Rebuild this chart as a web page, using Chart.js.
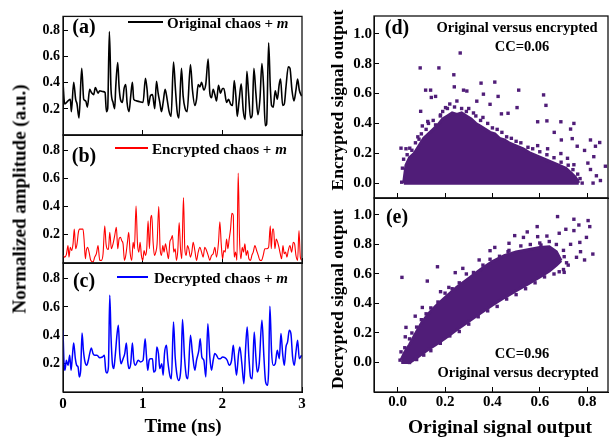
<!DOCTYPE html>
<html>
<head>
<meta charset="utf-8">
<script src="https://cdn.jsdelivr.net/npm/chart.js@4"></script>
<style>
  body { margin: 0; background: #fff; }
  #wrap { position: relative; width: 612px; height: 439px; overflow: hidden; }
  canvas { position: absolute; left: 0; top: 0; }
  .lbl { position: absolute; font-family: "Liberation Serif", "Times New Roman", serif; font-weight: bold;
         color: #000; white-space: nowrap; transform: translate(-50%, -50%); line-height: 1; }
  .leg { position: absolute; font-family: "Liberation Serif", "Times New Roman", serif; font-weight: bold;
         color: #000; white-space: nowrap; font-size: 15px; line-height: 1; transform: translateY(-50%); }
  .seg { position: absolute; height: 1.6px; }
  .rot { transform: translate(-50%, -50%) rotate(-90deg); }
</style>
</head>
<body>
<div id="wrap">
  <canvas id="cA" width="612" height="439"></canvas>
  <canvas id="cB" width="612" height="439"></canvas>
  <canvas id="cC" width="612" height="439"></canvas>
  <canvas id="cD" width="612" height="439"></canvas>
  <canvas id="cE" width="612" height="439"></canvas>

  <div class="lbl" style="left:84px;top:26px;font-size:20px">(a)</div>
  <div class="seg" style="left:128px;top:21px;width:35px;background:#000"></div>
  <div class="leg" style="left:167px;top:23px">Original chaos + <i>m</i></div>

  <div class="lbl" style="left:84px;top:155px;font-size:20px">(b)</div>
  <div class="seg" style="left:115px;top:147px;width:33px;background:#ff0000"></div>
  <div class="leg" style="left:152px;top:149px">Encrypted chaos + <i>m</i></div>

  <div class="lbl" style="left:84px;top:280px;font-size:20px">(c)</div>
  <div class="seg" style="left:117px;top:276px;width:31px;background:#0000ff"></div>
  <div class="leg" style="left:154px;top:278px">Decrypted chaos + <i>m</i></div>

  <div class="lbl" style="left:183px;top:425px;font-size:19px">Time (ns)</div>
  <div class="lbl rot" style="left:19px;top:199px;font-size:19px">Normalized amplitude (a.u.)</div>

  <div class="lbl" style="left:397px;top:27px;font-size:20px">(d)</div>
  <div class="lbl" style="left:517px;top:27px;font-size:14.5px">Original versus encrypted</div>
  <div class="lbl" style="left:522px;top:46px;font-size:14.5px">CC=0.06</div>

  <div class="lbl" style="left:397px;top:216px;font-size:20px">(e)</div>
  <div class="lbl" style="left:522px;top:353px;font-size:14.5px">CC=0.96</div>
  <div class="lbl" style="left:518px;top:372px;font-size:14.5px">Original versus decrypted</div>

  <div class="lbl rot" style="left:338px;top:100px;font-size:17.5px">Encrypted signal output</div>
  <div class="lbl rot" style="left:338px;top:299px;font-size:17.5px">Decrypted signal output</div>
  <div class="lbl" style="left:500px;top:427px;font-size:19.5px">Original signal output</div>
</div>

<script>
/* ---------------- DATA ---------------- */

// (a) original chaos + m
const timeA = [
  0, .021, .063, .092, .105, .134, .159, .176, .201, .235,
  .26, .285, .306, .335, .356, .385, .406, .44, .461, .503,
  .528, .545, .561, .582, .603, .628, .649, .662, .687, .704,
  .721, .746, .767, .788, .804, .829, .85, .871, .888, .922,
  .964, 1.005, 1.035, 1.056, 1.072, 1.098, 1.123, 1.152, 1.173, 1.194,
  1.215, 1.236, 1.257, 1.282, 1.307, 1.332, 1.357, 1.387, 1.412, 1.433,
  1.454, 1.487, 1.508, 1.533, 1.558, 1.6, 1.625, 1.655, 1.676, 1.697,
  1.718, 1.739, 1.768, 1.793, 1.822, 1.843, 1.864, 1.885, 1.906, 1.927,
  1.952, 1.977, 2.003, 2.019, 2.053, 2.078, 2.103, 2.128, 2.149, 2.17,
  2.187, 2.212, 2.237, 2.262, 2.287, 2.308, 2.329, 2.354, 2.375, 2.396,
  2.421, 2.447, 2.472, 2.497, 2.518, 2.539, 2.556, 2.581, 2.602, 2.618,
  2.639, 2.664, 2.69, 2.715, 2.731, 2.757, 2.778, 2.799, 2.828, 2.849,
  2.874, 2.899, 2.924, 2.945, 2.966, 2.995
];
const ampA = [
  .40, .238, .262, .274, .179, .405, .274, .238, .131, .512,
  .274, .262, .214, .35, .326, .31, .364, .321, .34, .333,
  .326, .179, .202, .793, .345, .25, .202, .369, .555, .369,
  .274, .25, .357, .388, .25, .179, .298, .405, .274, .262,
  .255, .25, .436, .345, .226, .302, .31, .202, .412, .321,
  .25, .179, .25, .35, .274, .179, .143, .56, .345, .179,
  .131, .512, .298, .202, .179, .54, .345, .226, .274, .388,
  .369, .405, .345, .393, .583, .321, .286, .35, .31, .262,
  .381, .321, .357, .357, .25, .274, .238, .226, .417, .298,
  .143, .274, .393, .19, .119, .488, .321, .131, .155, .512,
  .321, .155, .274, .548, .369, .071, .083, .707, .369, .226,
  .214, .34, .274, .393, .429, .226, .238, .369, .524, .512,
  .345, .262, .345, .429, .345, .298
];

// (b) encrypted chaos + m
const timeB = [
  0, .021, .042, .063, .075, .092, .109, .126, .142, .159,
  .176, .193, .209, .235, .251, .264, .281, .293, .31, .327,
  .348, .377, .398, .419, .44, .461, .482, .503, .524, .54,
  .553, .57, .587, .607, .628, .649, .67, .687, .704, .721,
  .737, .754, .771, .788, .809, .825, .842, .863, .88, .896,
  .917, .934, .951, .968, .984, 1.001, 1.018, 1.035, 1.051, 1.068,
  1.085, 1.102, 1.114, 1.131, 1.148, 1.165, 1.181, 1.202, 1.219, 1.236,
  1.253, 1.269, 1.286, 1.307, 1.324, 1.341, 1.357, 1.374, 1.391, 1.408,
  1.424, 1.441, 1.458, 1.475, 1.491, 1.512, 1.529, 1.546, 1.563, 1.579,
  1.6, 1.617, 1.634, 1.655, 1.676, 1.697, 1.718, 1.739, 1.759, 1.78,
  1.801, 1.822, 1.843, 1.864, 1.885, 1.906, 1.927, 1.952, 1.969, 1.986,
  2.003, 2.019, 2.036, 2.053, 2.07, 2.086, 2.103, 2.12, 2.137, 2.149,
  2.166, 2.183, 2.199, 2.216, 2.233, 2.25, 2.266, 2.283, 2.3, 2.317,
  2.333, 2.354, 2.371, 2.388, 2.409, 2.43, 2.451, 2.472, 2.493, 2.513,
  2.534, 2.556, 2.581, 2.602, 2.614, 2.631, 2.643, 2.66, 2.677, 2.694,
  2.71, 2.727, 2.744, 2.761, 2.777, 2.794, 2.811, 2.828, 2.849, 2.87,
  2.891, 2.907, 2.924, 2.945, 2.962, 2.979, 2.995
];
const ampB = [
  .054, .042, .059, .124, .042, .112, .089, .136, .241, .101,
  .136, .218, .241, .241, .241, .171, .03, .089, .112, .077,
  .019, .007, .042, .066, .124, .019, .019, .066, .265, .136,
  .101, .096, .218, .101, .136, .195, .253, .101, .171, .183,
  .159, .136, .019, .054, .148, .218, .077, .019, .148, .101,
  .405, .148, .077, .148, .054, .019, .089, .054, .101, .3,
  .101, .323, .34, .148, .054, .077, .136, .401, .101, .054,
  .124, .077, .136, .077, .03, .148, .171, .195, .077, .101,
  .019, .089, .288, .101, .03, .466, .101, .054, .124, .101,
  .042, .077, .148, .089, .019, .077, .112, .077, .042, .112,
  .089, .054, .019, .054, .066, .112, .042, .148, .293, .136,
  .03, .089, .077, .171, .101, .171, .241, .354, .34, .042,
  .077, .019, .64, .171, .03, .112, .077, .136, .054, .089,
  .03, .019, .054, .077, .124, .089, .054, .019, .019, .054,
  .101, .101, .112, .265, .101, .241, .241, .101, .171, .148,
  .112, .066, .03, .124, .066, .077, .042, .089, .124, .077,
  .148, .136, .054, .019, .23, .042, .019
];

// (c) decrypted chaos + m
const timeC = [
  0, .013, .025, .042, .063, .084, .101, .117, .134, .155,
  .172, .189, .205, .222, .239, .256, .276, .297, .318, .335,
  .356, .377, .398, .427, .461, .494, .519, .536, .553, .57,
  .587, .603, .62, .637, .654, .679, .695, .712, .729, .754,
  .775, .796, .813, .829, .85, .871, .888, .909, .943, .972,
  1.005, 1.031, 1.047, 1.064, 1.081, 1.098, 1.123, 1.139, 1.16, 1.177,
  1.198, 1.215, 1.24, 1.257, 1.274, 1.299, 1.315, 1.341, 1.361, 1.387,
  1.408, 1.428, 1.449, 1.483, 1.5, 1.525, 1.55, 1.567, 1.6, 1.625,
  1.655, 1.676, 1.705, 1.722, 1.743, 1.768, 1.793, 1.818, 1.843, 1.864,
  1.885, 1.906, 1.927, 1.952, 1.977, 2.003, 2.032, 2.061, 2.086, 2.116,
  2.137, 2.157, 2.178, 2.204, 2.22, 2.245, 2.271, 2.292, 2.312, 2.333,
  2.354, 2.375, 2.4, 2.421, 2.438, 2.463, 2.497, 2.522, 2.543, 2.568,
  2.581, 2.597, 2.618, 2.639, 2.664, 2.69, 2.715, 2.736, 2.757, 2.778,
  2.799, 2.819, 2.84, 2.861, 2.882, 2.903, 2.924, 2.945, 2.966, 2.995
];
const ampC = [
  .435, .2, .153, .224, .188, .259, .153, .247, .346, .235,
  .188, .176, .106, .153, .416, .294, .212, .188, .224, .271,
  .311, .271, .259, .259, .242, .247, .259, .153, .134, .176,
  .682, .388, .2, .165, .247, .412, .471, .271, .2, .235,
  .271, .346, .212, .165, .2, .346, .224, .188, .224, .212,
  .224, .376, .259, .153, .224, .235, .235, .141, .153, .318,
  .271, .165, .2, .118, .271, .329, .224, .118, .094, .494,
  .247, .129, .082, .2, .511, .247, .106, .094, .4, .271,
  .153, .224, .294, .376, .247, .224, .106, .482, .247, .153,
  .224, .271, .259, .235, .235, .247, .242, .224, .188, .224,
  .329, .224, .118, .271, .318, .2, .059, .306, .459, .247,
  .106, .094, .424, .247, .141, .2, .506, .247, .071, .047,
  .153, .605, .282, .188, .2, .294, .235, .412, .271, .188,
  .318, .353, .435, .412, .247, .188, .282, .365, .235, .259
];

// (d) original vs encrypted: dense core (upper edge), its ragged fringe, stray points
const encCloudX = [0.025, 0.035, 0.05, 0.07, 0.09, 0.11, 0.13, 0.15, 0.17, 0.19,
  0.21, 0.23, 0.25, 0.27, 0.29, 0.31, 0.33, 0.35, 0.37, 0.39,
  0.41, 0.43, 0.45, 0.47, 0.5, 0.53, 0.56, 0.59, 0.62, 0.65,
  0.68, 0.71, 0.73, 0.75, 0.765];
const encCloudTop = [0, 0.12, 0.17, 0.2, 0.25, 0.3, 0.33, 0.36, 0.39, 0.43,
  0.45, 0.47, 0.46, 0.47, 0.45, 0.43, 0.4, 0.38, 0.36, 0.34,
  0.33, 0.3, 0.29, 0.27, 0.25, 0.23, 0.2, 0.18, 0.16, 0.14,
  0.12, 0.1, 0.07, 0.04, 0];
const encEdgeX = [0.02, 0.025, 0.04, 0.06, 0.075, 0.085, 0.1, 0.12, 0.13, 0.15,
  0.16, 0.18, 0.19, 0.21, 0.22, 0.24, 0.25, 0.27, 0.29, 0.3,
  0.32, 0.33, 0.35, 0.36, 0.38, 0.4, 0.42, 0.44, 0.46, 0.48,
  0.5, 0.52, 0.55, 0.57, 0.6, 0.63, 0.66, 0.69, 0.72, 0.74,
  0.76, 0.77];
const encEdgeY = [0.1, 0.16, 0.19, 0.22, 0.27, 0.31, 0.33, 0.36, 0.4, 0.42,
  0.39, 0.45, 0.48, 0.5, 0.53, 0.51, 0.55, 0.5, 0.48, 0.5,
  0.47, 0.45, 0.42, 0.44, 0.4, 0.37, 0.36, 0.34, 0.31, 0.3,
  0.28, 0.27, 0.24, 0.23, 0.21, 0.19, 0.17, 0.14, 0.12, 0.09,
  0.06, 0.03];
const encX = [0.264, 0.095, 0.174, 0.237, 0.118, 0.139, 0.16, 0.142, 0.239, 0.278,
  0.292, 0.352, 0.41, 0.511, 0.362, 0.334, 0.424, 0.616, 0.626, 0.504,
  0.097, 0.39, 0.466, 0.438, 0.591, 0.63, 0.689, 0.744, 0.73, 0.661,
  0.691, 0.737, 0.814, 0.853, 0.835, 0.758, 0.789, 0.828, 0.803, 0.814,
  0.839, 0.856, 0.825, 0.779, 0.877, 0.014, 0.035, 0.051, 0.017, 0.035,
  0.09, 0.127, 0.104, 0.181, 0.202, 0.591, 0.633, 0.689, 0.717, 0.744,
  0.73, 0.758, 0.703];
const encY = [0.872, 0.772, 0.772, 0.726, 0.623, 0.623, 0.581, 0.574, 0.645, 0.623,
  0.617, 0.67, 0.677, 0.623, 0.596, 0.549, 0.581, 0.591, 0.521, 0.506,
  0.481, 0.528, 0.468, 0.464, 0.411, 0.417, 0.411, 0.4, 0.362, 0.34,
  0.289, 0.298, 0.289, 0.272, 0.247, 0.247, 0.219, 0.177, 0.134, 0.091,
  0.049, 0.017, 0, 0, 0.113, 0.234, 0.23, 0.234, 0.006, 0.06,
  0.294, 0.413, 0.383, 0.457, 0.506, 0.251, 0.23, 0.198, 0.166, 0.123,
  0.06, 0.017, 0.017];

// (e) original vs decrypted: dense band, its ragged fringe, stray points
const decBandX = [0.015, 0.03, 0.05, 0.07, 0.1, 0.13, 0.16, 0.2, 0.25, 0.3,
  0.35, 0.4, 0.45, 0.5, 0.55, 0.6, 0.64, 0.67, 0.69];
const decBandLow = [0, 0, 0, 0.02, 0.056, 0.09, 0.12, 0.165, 0.223, 0.28,
  0.335, 0.39, 0.44, 0.486, 0.533, 0.58, 0.62, 0.66, 0.69];
const decBandHigh = [0.02, 0.07, 0.12, 0.18, 0.265, 0.33, 0.38, 0.44, 0.51, 0.57,
  0.63, 0.685, 0.725, 0.75, 0.765, 0.78, 0.785, 0.75, 0.69];
const decEdgeX = [0.03, 0.05, 0.06, 0.08, 0.1, 0.12, 0.14, 0.17, 0.2, 0.23,
  0.26, 0.29, 0.32, 0.36, 0.39, 0.43, 0.47, 0.52, 0.56, 0.6,
  0.64, 0.67, 0.7, 0.05, 0.08, 0.11, 0.14, 0.18, 0.22, 0.26,
  0.3, 0.34, 0.38, 0.42, 0.46, 0.5, 0.54, 0.58, 0.62, 0.66,
  0.7, 0.72];
const decEdgeY = [0.1, 0.16, 0.2, 0.24, 0.29, 0.33, 0.37, 0.41, 0.47, 0.5,
  0.54, 0.6, 0.61, 0.66, 0.7, 0.72, 0.76, 0.79, 0.8, 0.81,
  0.82, 0.8, 0.76, 0, 0.02, 0.05, 0.08, 0.13, 0.18, 0.21,
  0.26, 0.31, 0.35, 0.38, 0.43, 0.46, 0.5, 0.54, 0.58, 0.6,
  0.63, 0.66];
const decX = [0.675, 0.744, 0.804, 0.811, 0.765, 0.71, 0.744, 0.682, 0.589, 0.547,
  0.494, 0.47, 0.63, 0.797, 0.769, 0.73, 0.772, 0.824, 0.755, 0.789,
  0.703, 0.713, 0.661, 0.682, 0.703, 0.39, 0.344, 0.275, 0.243, 0.168,
  0.125, 0.104, 0.074, 0.035, 0.032, 0.018, 0.014, 0.01, 0.181, 0.216,
  0.299, 0.369, 0.438, 0.508, 0.55, 0.605, 0.591, 0.531, 0.41, 0.466];
const decY = [0.989, 0.971, 0.962, 0.921, 0.932, 0.903, 0.894, 0.876, 0.921, 0.885,
  0.86, 0.808, 0.857, 0.848, 0.814, 0.801, 0.751, 0.735, 0.713, 0.695,
  0.717, 0.676, 0.661, 0.615, 0.611, 0.758, 0.695, 0.638, 0.609, 0.649,
  0.552, 0.373, 0.314, 0.238, 0.174, 0.577, 0.072, 0.016, 0.48, 0.509,
  0.559, 0.593, 0.638, 0.695, 0.729, 0.796, 0.853, 0.848, 0.78, 0.751];

// axis ticks
const timeTicks = [0, 1, 2, 3];
const ampTicks = [0, 0.2, 0.4, 0.6, 0.8];
const ampLabels = [0.2, 0.4, 0.6, 0.8];
const sigTicks = [0, 0.2, 0.4, 0.6, 0.8, 1.0];
const origTicks = [0, 0.2, 0.4, 0.6, 0.8];

/* ---------------- HELPERS ---------------- */

const PURPLE = "#501d78";
const FONT = "'Liberation Serif', 'Times New Roman', serif";
const Y_ROOM = 32;   // width kept for y tick labels
const X_ROOM = 26;   // height kept for x tick labels

function pts(xs, ys) {
  return xs.map((x, i) => ({ x: x, y: ys[i] }));
}

const framePlugin = {
  id: "frame",
  afterDraw(chart) {
    const a = chart.chartArea, ctx = chart.ctx;
    ctx.save();
    ctx.strokeStyle = "#111";
    ctx.lineWidth = 1.3;
    ctx.strokeRect(a.left, a.top, a.right - a.left, a.bottom - a.top);
    ctx.restore();
  }
};

function axis(pos, min, max, ticks, opts) {
  return {
    type: "linear",
    position: pos,
    min: min,
    max: max,
    afterBuildTicks: s => { s.ticks = ticks.map(v => ({ value: v })); },
    afterFit: s => { if (pos === "left") s.width = Y_ROOM; else s.height = X_ROOM; },
    grid: { drawOnChartArea: false, color: "#000", tickLength: -5, lineWidth: 1 },
    border: { color: "#000", width: 1 },
    ticks: {
      display: opts.show,
      padding: opts.pad,
      color: "#000",
      maxRotation: 0,
      font: { family: FONT, weight: "bold", size: opts.size },
      callback: v => (opts.only && !opts.only.includes(v)) ? "" : v.toFixed(opts.digits)
    }
  };
}

function panel(id, box, datasets, x, y) {
  return new Chart(document.getElementById(id), {
    type: "line",
    data: { datasets: datasets },
    options: {
      responsive: false,
      animation: false,
      events: [],
      layout: { padding: { left: box[0] - Y_ROOM, top: box[1], right: 612 - box[2], bottom: 439 - box[3] - X_ROOM } },
      plugins: { legend: { display: false }, tooltip: { enabled: false } },
      scales: { x: x, y: y }
    },
    plugins: [framePlugin]
  });
}

function trace(ts, vs, color, w) {
  return { data: pts(ts, vs), borderColor: color, borderWidth: w, pointRadius: 0,
           tension: 0.4, cubicInterpolationMode: "monotone", fill: false };
}

function cloud(xs, ys) {
  return { data: pts(xs, ys), showLine: false, pointStyle: "rect", pointRadius: 2.4,
           backgroundColor: PURPLE, borderColor: PURPLE, borderWidth: 0 };
}

/* ---------------- LEFT COLUMN ---------------- */

const yLeft = { show: true, pad: 8, size: 14, digits: 1, only: ampLabels };
const xHidden = { show: false, pad: 8, size: 14, digits: 0 };

panel("cA", [63, 7, 302, 135], [trace(timeA, ampA, "#000", 1.6)],
  axis("bottom", 0, 3, timeTicks, xHidden), axis("left", 0, 0.91, ampTicks, yLeft));

panel("cB", [63, 135, 302, 263], [trace(timeB, ampB, "#ff0000", 1.1)],
  axis("bottom", 0, 3, timeTicks, xHidden), axis("left", 0, 0.91, ampTicks, yLeft));

panel("cC", [63, 263, 302, 392], [trace(timeC, ampC, "#0000ff", 1.5)],
  axis("bottom", 0, 3, timeTicks, { show: true, pad: 8, size: 15, digits: 0 }),
  axis("left", 0, 0.91, ampTicks, yLeft));

/* ---------------- RIGHT COLUMN ---------------- */

const yRight = { show: true, pad: 7, size: 15, digits: 1 };

panel("cD", [374, 7, 611, 198], [
    { data: pts(encCloudX, encCloudTop), borderColor: PURPLE, borderWidth: 3, pointRadius: 0,
      tension: 0, backgroundColor: PURPLE, fill: { value: -0.012 } },
    cloud(encEdgeX, encEdgeY),
    cloud(encX, encY)
  ],
  axis("bottom", -0.1, 0.888, origTicks, { show: false, pad: 6, size: 15, digits: 1 }),
  axis("left", -0.1, 1.12, sigTicks, yRight));

panel("cE", [374, 198, 611, 392], [
    { data: pts(decBandX, decBandLow), borderColor: PURPLE, borderWidth: 3, pointRadius: 0,
      tension: 0, fill: false },
    { data: pts(decBandX, decBandHigh), borderColor: PURPLE, borderWidth: 3, pointRadius: 0,
      tension: 0, backgroundColor: PURPLE, fill: "-1" },
    cloud(decEdgeX, decEdgeY),
    cloud(decX, decY)
  ],
  axis("bottom", -0.1, 0.888, origTicks, { show: true, pad: 6, size: 15, digits: 1 }),
  axis("left", -0.2, 1.115, sigTicks, yRight));
</script>
</body>
</html>
